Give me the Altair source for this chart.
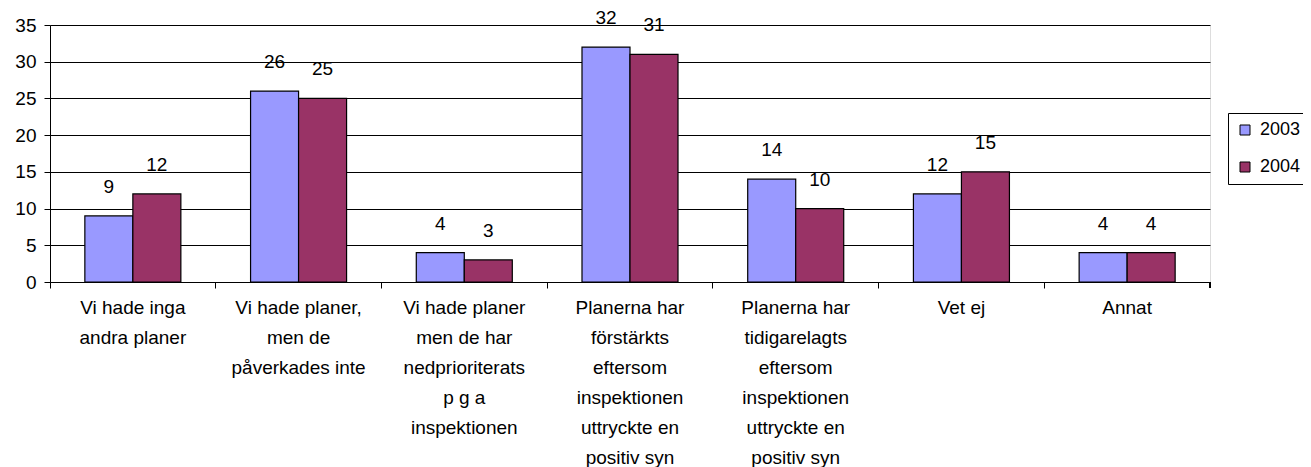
import altair as alt
import pandas as pd

categories = [
    "Vi hade inga|andra planer",
    "Vi hade planer,|men de|påverkades inte",
    "Vi hade planer|men de har|nedprioriterats|p g a|inspektionen",
    "Planerna har|förstärkts|eftersom|inspektionen|uttryckte en|positiv syn",
    "Planerna har|tidigarelagts|eftersom|inspektionen|uttryckte en|positiv syn",
    "Vet ej",
    "Annat",
]
years = ["2003", "2004"]
values_2003 = [9, 26, 4, 32, 14, 12, 4]
values_2004 = [12, 25, 3, 31, 10, 15, 4]

rows = []
for c, a, b in zip(categories, values_2003, values_2004):
    rows.append({"cat": c, "year": "2003", "value": a})
    rows.append({"cat": c, "year": "2004", "value": b})
df = pd.DataFrame(rows)

FONT = "Liberation Sans"

x = alt.X(
    "cat:N",
    sort=categories,
    title=None,
    scale=alt.Scale(paddingInner=0, paddingOuter=0),
    axis=alt.Axis(
        labelAngle=0,
        labelExpr="split(datum.label, '|')",
        labelFontSize=19,
        labelLineHeight=30,
        labelColor="black",
        labelPadding=10,
        labelBaseline="top",
        labelLimit=0,
        bandPosition=0,
        tickSize=6,
        tickColor="black",
        domainColor="black",
        labelFont=FONT,
    ),
)
xoff = alt.XOffset(
    "year:N", sort=years, scale=alt.Scale(paddingInner=0, paddingOuter=0.726)
)
color = alt.Color(
    "year:N",
    sort=years,
    scale=alt.Scale(domain=years, range=["#9999FF", "#993366"]),
    legend=alt.Legend(
        title=None,
        orient="none",
        legendX=1178,
        legendY=88,
        fillColor="white",
        strokeColor="black",
        padding=8,
        symbolType="square",
        symbolSize=100,
        symbolStrokeColor="black",
        symbolStrokeWidth=1,
        labelFontSize=18,
        labelFont=FONT,
        labelColor="black",
        rowPadding=19,
        labelOffset=6,
    ),
)
y = alt.Y(
    "value:Q",
    title=None,
    scale=alt.Scale(domain=[0, 35], nice=False),
    axis=alt.Axis(
        values=[0, 5, 10, 15, 20, 25, 30, 35],
        labelFontSize=19,
        labelFont=FONT,
        labelColor="black",
        tickSize=6,
        tickColor="black",
        domainColor="black",
        gridColor="black",
        gridOpacity=1,
        labelPadding=8,
    ),
)

bars = alt.Chart(df).mark_bar(stroke="black", strokeWidth=1.2).encode(
    x=x, xOffset=xoff, y=y, color=color
)
labels = alt.Chart(df).mark_text(
    fontSize=19, font=FONT, color="black", baseline="alphabetic", dy=-23
).encode(x=x, xOffset=xoff, y=y, text="value:Q")
end_tick = alt.Chart(df).mark_rule(color="black").encode(
    x=alt.value(1160), y=alt.value(257), y2=alt.value(263)
)

chart = (
    alt.layer(bars, labels, end_tick)
    .properties(
        width=1160,
        height=257,
        autosize=alt.AutoSizeParams(type="none"),
        padding={"left": 42, "top": 17, "right": 93, "bottom": 185},
        background="white",
    )
    .configure_view(fill="#C0C0C0", stroke="#808080", strokeWidth=1)
    .configure(font=FONT)
)

chart.save("out.html", embed_options={"renderer": "svg", "actions": False})
